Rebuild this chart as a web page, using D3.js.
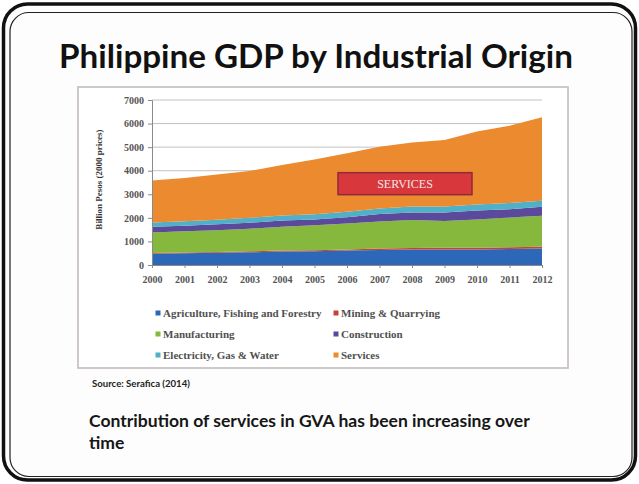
<!DOCTYPE html>
<html>
<head>
<meta charset="utf-8">
<script src="https://cdn.jsdelivr.net/npm/d3@7/dist/d3.min.js"></script>
<style>
  html, body { margin: 0; padding: 0; background: #ffffff; }
  svg { display: block; }
</style>
</head>
<body>
<svg id="slide" width="639" height="484"></svg>
<script>
// Gross value added by industrial origin, billion pesos at 2000 prices
const years = [2000, 2001, 2002, 2003, 2004, 2005, 2006, 2007, 2008, 2009, 2010, 2011, 2012];
const agriculture   = [480, 500, 520, 540, 570, 580, 610, 640, 660, 660, 660, 680, 700];
const mining        = [25, 30, 35, 40, 45, 45, 50, 60, 60, 70, 70, 70, 70];
const manufacturing = [870, 900, 920, 960, 1010, 1060, 1100, 1150, 1190, 1140, 1200, 1260, 1320];
const construction  = [250, 240, 250, 250, 260, 250, 270, 310, 320, 360, 380, 360, 380];
const electricity   = [180, 190, 200, 210, 210, 220, 230, 240, 250, 250, 260, 260, 260];
const services      = [1775, 1830, 1915, 1990, 2145, 2325, 2480, 2620, 2720, 2820, 3090, 3280, 3540];
const yTicks = [0, 1000, 2000, 3000, 4000, 5000, 6000, 7000];

const seriesNames = [
  "Agriculture, Fishing and Forestry", "Mining & Quarrying", "Manufacturing",
  "Construction", "Electricity, Gas & Water", "Services"
];
const seriesValues = [agriculture, mining, manufacturing, construction, electricity, services];
const colors = ["#2d68b8", "#c8403c", "#86b83e", "#5b4a9c", "#4fb0c8", "#ec8a30"];

const svg = d3.select("#slide");

// Scale a text element's font size so that it spans the given width
function fitWidth(sel, size, width) {
  sel.attr("font-size", size);
  const w = sel.node().getComputedTextLength();
  sel.attr("font-size", size * width / w);
  return sel;
}

// Slide frame: heavy outer rule with a thin inner rule
svg.append("rect").attr("x", 3.5).attr("y", 4).attr("width", 632).attr("height", 476)
  .attr("rx", 24).attr("fill", "#fdfdfd").attr("stroke", "#111").attr("stroke-width", 3.5);
svg.append("rect").attr("x", 10).attr("y", 12.5).attr("width", 622).attr("height", 464)
  .attr("rx", 19).attr("fill", "none").attr("stroke", "#222").attr("stroke-width", 1.2);

// Title
const title = svg.append("text").attr("x", 316).attr("y", 68).attr("text-anchor", "middle")
  .attr("font-family", "Lato, 'Open Sans', sans-serif").attr("font-weight", 700)
  .attr("fill", "#111")
  .text("Philippine GDP by Industrial Origin");
fitWidth(title, 29, 514);

// Chart frame
svg.append("rect").attr("x", 78).attr("y", 87).attr("width", 490).attr("height", 281)
  .attr("fill", "#ffffff").attr("stroke", "#c9c3c3").attr("stroke-width", 1.8);

const plot = { left: 152, right: 542, top: 100, bottom: 265 };

const x = d3.scaleLinear().domain([years[0], years[years.length - 1]])
  .range([plot.left, plot.right]);
const y = d3.scaleLinear().domain([0, 7000]).range([plot.bottom, plot.top]);

// Gridlines
svg.append("g").selectAll("line").data(yTicks.filter(d => d > 0)).join("line")
  .attr("x1", plot.left).attr("x2", plot.right)
  .attr("y1", d => y(d)).attr("y2", d => y(d))
  .attr("stroke", "#c2c2c2").attr("stroke-width", 1);

// Stacked areas
const table = years.map((yr, i) => {
  const row = { year: yr };
  seriesNames.forEach((n, k) => row[n] = seriesValues[k][i]);
  return row;
});
const stacked = d3.stack().keys(seriesNames)(table);
const area = d3.area()
  .x(d => x(d.data.year))
  .y0(d => y(d[0]))
  .y1(d => y(d[1]));
svg.append("g").selectAll("path").data(stacked).join("path")
  .attr("d", area)
  .attr("fill", (d, i) => colors[i]);

// Y axis
const yAxis = d3.axisLeft(y).tickValues(yTicks).tickSize(4).tickFormat(d3.format("d"));
const gy = svg.append("g").attr("transform", `translate(${plot.left},0)`).call(yAxis);
gy.select(".domain").attr("stroke", "#8a8a8a");
gy.selectAll(".tick line").attr("stroke", "#8a8a8a");
gy.selectAll("text").attr("font-family", "'Liberation Serif', serif")
  .attr("font-size", 10).attr("fill", "#555").attr("font-weight", 700).attr("x", -8);

// X axis
const xAxis = d3.axisBottom(x).tickValues(years).tickSize(3).tickFormat(d3.format("d"));
const gx = svg.append("g").attr("transform", `translate(0,${plot.bottom})`).call(xAxis);
gx.select(".domain").attr("stroke", "#8a8a8a");
gx.selectAll(".tick line").attr("stroke", "#8a8a8a");
gx.selectAll("text").attr("font-family", "'Liberation Serif', serif")
  .attr("font-size", 10).attr("fill", "#555").attr("font-weight", 700).attr("dy", "1.2em");

// Y axis title
svg.append("text")
  .attr("transform", `translate(102,${(plot.top + plot.bottom) / 2 - 3}) rotate(-90)`)
  .attr("text-anchor", "middle")
  .attr("font-family", "'Liberation Serif', serif").attr("font-weight", 700)
  .attr("font-size", 9).attr("fill", "#333")
  .text("Billion Pesos (2000 prices)");

// Services callout
const cyv = 3450;
svg.append("rect").attr("x", 338).attr("y", y(cyv) - 11).attr("width", 134).attr("height", 22)
  .attr("fill", "#d8383c").attr("stroke", "#8e2a3a").attr("stroke-width", 1.5);
svg.append("text").attr("x", 405).attr("y", y(cyv) + 4.5).attr("text-anchor", "middle")
  .attr("font-family", "'Liberation Serif', serif").attr("font-size", 12)
  .attr("fill", "#f4e6e6").text("SERVICES");

// Legend (two columns, three rows)
const legend = svg.append("g");
const legendPos = [
  [158, 313], [336, 313],
  [158, 334], [336, 334],
  [158, 355], [336, 355]
];
seriesNames.forEach((name, k) => {
  const [lx, ly] = legendPos[k];
  legend.append("rect").attr("x", lx - 2.5).attr("y", ly - 2.5).attr("width", 5).attr("height", 5)
    .attr("fill", colors[k]);
  legend.append("text").attr("x", lx + 5).attr("y", ly + 3.5)
    .attr("font-family", "'Liberation Serif', serif").attr("font-size", 11)
    .attr("font-weight", 700).attr("fill", "#505050").text(name);
});

// Source note and caption
const source = svg.append("text").attr("x", 92).attr("y", 387)
  .attr("font-family", "Lato, sans-serif").attr("font-weight", 700)
  .attr("fill", "#222").text("Source: Serafica (2014)");
fitWidth(source, 7, 98);
const cap1 = svg.append("text").attr("x", 89).attr("y", 427)
  .attr("font-family", "Lato, sans-serif").attr("font-weight", 700)
  .attr("fill", "#161616")
  .text("Contribution of services in GVA has been increasing over");
fitWidth(cap1, 15, 441);
svg.append("text").attr("x", 89).attr("y", 449)
  .attr("font-family", "Lato, sans-serif").attr("font-weight", 700)
  .attr("font-size", cap1.attr("font-size")).attr("fill", "#161616").text("time");
</script>
</body>
</html>
